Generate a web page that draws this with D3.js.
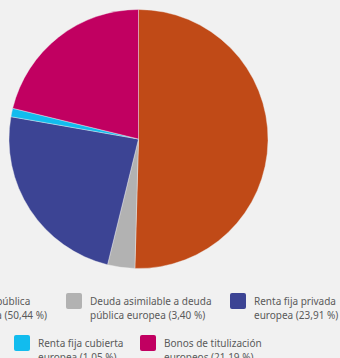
<!DOCTYPE html>
<html>
<head>
<meta charset="utf-8">
<script src="https://cdn.jsdelivr.net/npm/d3@7"></script>
<style>
  html, body { margin: 0; padding: 0; background: #f1f1f1; overflow: hidden; }
  svg { display: block; }
  .legend text { font-family: "Noto Sans", sans-serif; font-size: 10px; fill: #5a5a5a; }
</style>
</head>
<body>
<script>
// DATA

const categories = [
  "Deuda pública europea",
  "Deuda asimilable a deuda pública europea",
  "Renta fija privada europea",
  "Renta fija cubierta europea",
  "Bonos de titulización europeos"
];
const values = [50.44, 3.40, 23.91, 1.05, 21.19];
const labels = ["50,44 %", "3,40 %", "23,91 %", "1,05 %", "21,19 %"];
// legend text split over two lines as in the original
const legendLines = [
  ["Deuda pública", "europea (50,44 %)"],
  ["Deuda asimilable a deuda", "pública europea (3,40 %)"],
  ["Renta fija privada", "europea (23,91 %)"],
  ["Renta fija cubierta", "europea (1,05 %)"],
  ["Bonos de titulización", "europeos (21,19 %)"]
];
const colors = ["#c04a17", "#b2b2b2", "#3c4494", "#12bcee", "#c10061"];

const w = 340, h = 358;

const svg = d3.select("body")
  .append("svg")
  .attr("width", w)
  .attr("height", h);

// PIE

const cx = 138.5, cy = 139, radius = 129.5;

const pie = d3.pie()
  .sort(null)
  .value(d => d);

const arc = d3.arc()
  .innerRadius(0)
  .outerRadius(radius);

svg.append("g")
  .attr("transform", `translate(${cx}, ${cy})`)
  .selectAll("path")
  .data(pie(values))
  .enter()
  .append("path")
  .attr("d", arc)
  .attr("fill", (d, i) => colors[i])
  .attr("stroke", "#f1f1f1")
  .attr("stroke-width", 0.4);

// LEGEND

// swatch left edge of each item, rows of the wrapped legend
const rows = [
  { y: 293, items: [0, 1, 2], x: [null, 66, 230] },
  { y: 335, items: [3, 4], x: [14, 140] }
];

const legend = svg.append("g").attr("class", "legend");

rows.forEach(row => {
  row.items.forEach((idx, j) => {
    const g = legend.append("g");
    const t = g.append("text");
    legendLines[idx].forEach((line, k) => {
      t.append("tspan")
        .attr("x", 0)
        .attr("y", 12 + k * 13.5)
        .text(line);
    });
    let sx = row.x[j];
    if (sx === null) {
      // first item runs off the left edge: its longest line ends at ~47px
      const wMax = d3.max(t.selectAll("tspan").nodes(), n => n.getComputedTextLength());
      sx = 47 - wMax - 24;
    }
    t.attr("transform", `translate(24, 0)`);
    g.insert("rect", "text")
      .attr("width", 16)
      .attr("height", 16)
      .attr("rx", 2)
      .attr("fill", colors[idx]);
    g.attr("transform", `translate(${sx}, ${row.y})`);
  });
});
</script>
</body>
</html>
